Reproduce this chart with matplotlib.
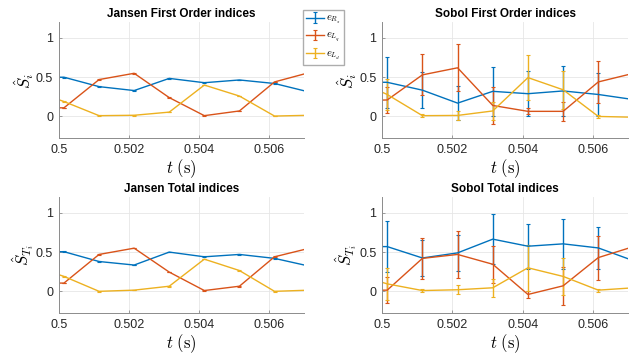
import matplotlib
matplotlib.use("Agg")
import matplotlib.pyplot as plt
import numpy as np

plt.rcParams["font.family"] = ["Liberation Sans", "DejaVu Sans"]
plt.rcParams["mathtext.fontset"] = "cm"

# sample times (first and last points fall just outside the plotted window)
t = [0.49915, 0.50015, 0.50115, 0.50215, 0.50315, 0.50415, 0.50515, 0.50615, 0.50715]

labels = [r"$e_{R_s}$", r"$e_{L_q}$", r"$e_{L_d}$"]
colors = ["#0072BD", "#D95319", "#EDB120"]

# Jansen first order
jf_rs = [0.50, 0.50, 0.38, 0.33, 0.485, 0.43, 0.465, 0.42, 0.31]
jf_lq = [0.11, 0.11, 0.47, 0.55, 0.24, 0.01, 0.07, 0.44, 0.56]
jf_ld = [0.35, 0.19, 0.01, 0.015, 0.055, 0.40, 0.26, 0.005, 0.015]

# Jansen total
jt_rs = [0.505, 0.505, 0.38, 0.335, 0.50, 0.44, 0.47, 0.42, 0.32]
jt_lq = [0.105, 0.105, 0.47, 0.55, 0.245, 0.01, 0.065, 0.44, 0.55]
jt_ld = [0.34, 0.19, 0.0, 0.015, 0.065, 0.41, 0.265, 0.0, 0.015]

# Sobol first order (mean and half-width of the interval)
sf_rs = [0.44, 0.435, 0.335, 0.17, 0.32, 0.29, 0.325, 0.28, 0.215]
sf_rs_err = [0.3, 0.325, 0.23, 0.22, 0.31, 0.285, 0.315, 0.27, 0.2]
sf_lq = [0.2, 0.21, 0.53, 0.62, 0.14, 0.065, 0.065, 0.44, 0.55]
sf_lq_err = [0.15, 0.16, 0.26, 0.30, 0.235, 0.04, 0.12, 0.265, 0.2]
sf_ld = [0.48, 0.28, 0.01, 0.013, 0.07, 0.495, 0.34, 0.0, -0.01]
sf_ld_err = [0.2, 0.2, 0.02, 0.057, 0.112, 0.29, 0.245, 0.02, 0.02]

# Sobol total
st_rs = [0.57, 0.57, 0.425, 0.49, 0.665, 0.575, 0.605, 0.553, 0.39]
st_rs_err = [0.3, 0.33, 0.23, 0.23, 0.32, 0.285, 0.32, 0.27, 0.2]
st_lq = [0.01, 0.015, 0.42, 0.47, 0.345, -0.04, 0.07, 0.43, 0.57]
st_lq_err = [0.15, 0.165, 0.26, 0.3, 0.235, 0.045, 0.24, 0.28, 0.2]
st_ld = [0.23, 0.095, 0.01, 0.02, 0.045, 0.30, 0.19, 0.015, 0.045]
st_ld_err = [0.2, 0.2, 0.02, 0.055, 0.115, 0.29, 0.24, 0.02, 0.02]

small = [0.004] * len(t)

panels = [
    ("Jansen First Order indices", r"$\hat{S}_i$",
     [(jf_rs, small), (jf_lq, small), (jf_ld, small)]),
    ("Sobol First Order indices", r"$\hat{S}_i$",
     [(sf_rs, sf_rs_err), (sf_lq, sf_lq_err), (sf_ld, sf_ld_err)]),
    ("Jansen Total indices", r"$\hat{S}_{T_i}$",
     [(jt_rs, small), (jt_lq, small), (jt_ld, small)]),
    ("Sobol Total indices", r"$\hat{S}_{T_i}$",
     [(st_rs, st_rs_err), (st_lq, st_lq_err), (st_ld, st_ld_err)]),
]

positions = [
    [0.0913, 0.609, 0.382, 0.328],
    [0.594, 0.609, 0.383, 0.328],
    [0.0913, 0.115, 0.382, 0.328],
    [0.594, 0.115, 0.383, 0.328],
]

fig = plt.figure(figsize=(6.43, 3.54), dpi=100)

axes = []
for (title, ylab, series), pos in zip(panels, positions):
    ax = fig.add_axes(pos)
    for (vals, err), c, lab in zip(series, colors, labels):
        ax.errorbar(t, vals, yerr=err, color=c, lw=1.0, elinewidth=1.0,
                    capsize=1.5, capthick=0.8, label=lab, clip_on=True)
    ax.set_xlim(0.5, 0.507)
    ax.set_ylim(-0.28, 1.2)
    ax.set_xticks([0.5, 0.502, 0.504, 0.506])
    ax.set_xticklabels(["0.5", "0.502", "0.504", "0.506"])
    ax.set_yticks([0, 0.5, 1])
    ax.set_yticklabels(["0", "0.5", "1"])
    ax.grid(True, color="#e6e6e6", lw=0.6)
    ax.set_axisbelow(True)
    for side in ["top", "right"]:
        ax.spines[side].set_visible(False)
    for side in ["left", "bottom"]:
        ax.spines[side].set_color("#8c8c8c")
        ax.spines[side].set_linewidth(0.7)
    ax.tick_params(direction="in", length=2.5, width=0.6, color="#8c8c8c",
                   labelsize=9, labelcolor="#262626", pad=4)
    ax.set_title(title, fontsize=8.5, fontweight="bold", pad=4)
    ax.set_xlabel(r"$t\ (\mathrm{s})$", fontsize=12, labelpad=1)
    ax.set_ylabel(ylab, fontsize=12, labelpad=0)
    axes.append(ax)

axes[0].legend(loc="upper left", bbox_to_anchor=(0.995, 1.105), fontsize=7.5,
               frameon=True, fancybox=False, edgecolor="#999999",
               handlelength=1.7, handletextpad=0.2, borderpad=0.3,
               labelspacing=0.4, borderaxespad=0.0)

fig.savefig("out.png", dpi=100)
